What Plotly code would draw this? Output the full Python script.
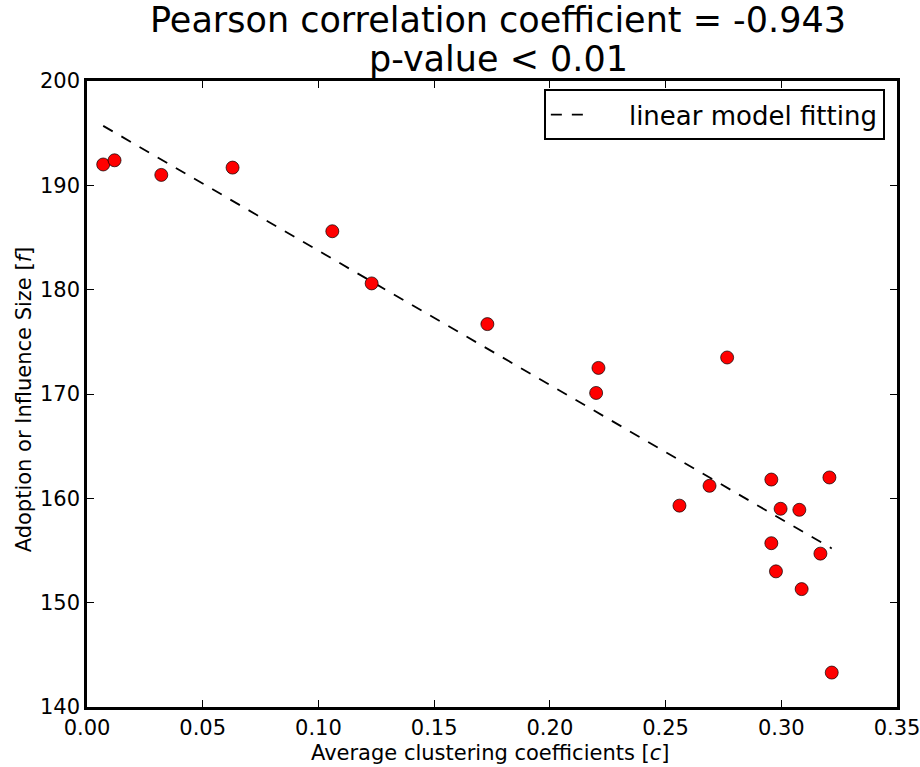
import plotly.graph_objects as go

clustering = [0.0070, 0.0119, 0.0321, 0.0629, 0.1060, 0.1230, 0.1730, 0.2210, 0.2200,
              0.2766, 0.2560, 0.2690, 0.2957, 0.2997, 0.3078, 0.3208, 0.2957, 0.3169,
              0.2977, 0.3088, 0.3218]
influence = [192.0, 192.4, 191.0, 191.7, 185.6, 180.6, 176.7, 172.5, 170.1,
             173.5, 159.3, 161.2, 161.8, 159.0, 158.9, 162.0, 155.7, 154.7,
             153.0, 151.3, 143.3]

fit_x = [0.0070, 0.3218]
fit_y = [195.7, 155.2]

x_ticks = [0.00, 0.05, 0.10, 0.15, 0.20, 0.25, 0.30, 0.35]
x_tick_labels = ["0.00", "0.05", "0.10", "0.15", "0.20", "0.25", "0.30", "0.35"]
y_ticks = [140, 150, 160, 170, 180, 190, 200]

title_lines = ["Pearson correlation coefficient = -0.943", "p-value < 0.01"]
x_title = "Average clustering coefficients [<i>c</i>]"
y_title = "Adoption or Influence Size [<i>f</i>]"
legend_name = "linear model fitting"

font = "DejaVu Sans"

fig = go.Figure()
fig.add_trace(go.Scatter(
    x=fit_x, y=fit_y, mode="lines", name="\u00a0\u00a0\u00a0\u00a0" + legend_name,
    line=dict(color="black", width=1.8, dash="11px,10px"),
))
fig.add_trace(go.Scatter(
    x=clustering, y=influence, mode="markers", showlegend=False,
    marker=dict(color="red", size=13, line=dict(color="black", width=0.7)),
))

axis_common = dict(
    showgrid=False, zeroline=False, showline=True, linecolor="black", linewidth=2.5,
    mirror="allticks", ticks="inside", ticklen=7, tickwidth=1, tickcolor="black",
    tickfont=dict(family=font, size=21, color="black"), automargin=False,
    ticklabeloverflow="allow",
)

fig.update_layout(
    width=920, height=767,
    margin=dict(l=87, r=23, t=81, b=60),
    paper_bgcolor="white", plot_bgcolor="white",
    font=dict(family=font, color="black"),
    xaxis=dict(range=[0, 0.35], tickvals=x_ticks, ticktext=x_tick_labels, **axis_common),
    yaxis=dict(range=[140, 200], tickvals=y_ticks, **axis_common),
    legend=dict(
        x=0.985, xanchor="right", y=0.987, yanchor="top",
        bordercolor="black", borderwidth=2, bgcolor="white",
        font=dict(family=font, size=26, color="black"),
        itemwidth=40,
    ),
)

for txt, yy in zip(title_lines, [1.098, 1.035]):
    fig.add_annotation(
        text=txt, xref="paper", yref="paper", x=0.508, y=yy,
        xanchor="center", yanchor="middle", showarrow=False,
        font=dict(family=font, size=35, color="black"),
    )

fig.add_annotation(
    text=x_title, xref="paper", yref="paper", x=0.498, y=-0.073,
    xanchor="center", yanchor="middle", showarrow=False,
    font=dict(family=font, size=21, color="black"),
)
fig.add_annotation(
    text=y_title, xref="paper", yref="paper", x=-0.0774, y=0.492,
    xanchor="center", yanchor="middle", showarrow=False, textangle=-90,
    font=dict(family=font, size=21, color="black"),
)

fig.write_html("out.html")
